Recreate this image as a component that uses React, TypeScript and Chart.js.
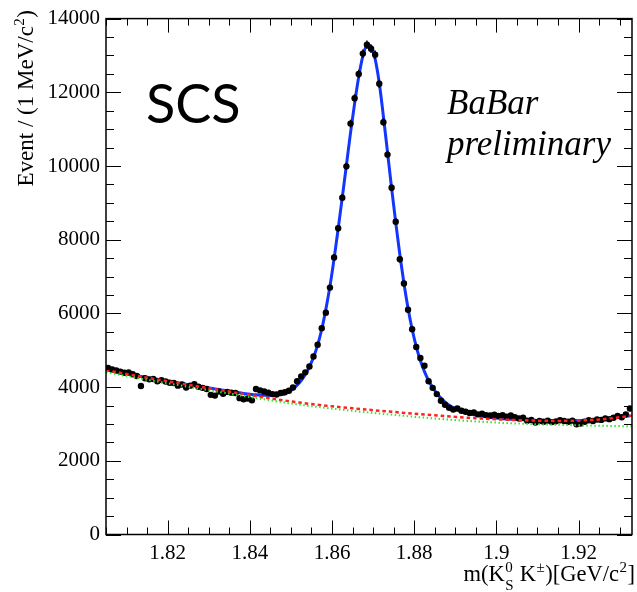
import React, { useEffect, useRef } from "react";
import { Chart, registerables } from "chart.js";

Chart.register(...registerables);

// Histogram binning: 1 MeV/c^2 bins across the K0s K± invariant-mass window (GeV/c^2)
const MASS_LOW = 1.805;
const MASS_HIGH = 1.933;
const BIN_WIDTH = 0.001;

// Events per bin
const eventCounts = [
  4520, 4480, 4450, 4420, 4390, 4400, 4350, 4300, 4030, 4240,
  4210, 4220, 4160, 4190, 4150, 4120, 4110, 4040, 4070, 3990,
  4040, 4080, 4010, 3980, 3950, 3790, 3770, 3880, 3820, 3870,
  3850, 3840, 3700, 3670, 3690, 3640, 3950, 3910, 3880, 3850,
  3810, 3800, 3840, 3860, 3900, 3990, 4160, 4290, 4400, 4560,
  4830, 5150, 5600, 6020, 6700, 7520, 8310, 9140, 9990, 11150,
  11840, 12500, 13050, 13290, 13180, 13020, 12230, 11190, 10310, 9410,
  8490, 7470, 6810, 6100, 5570, 5090, 4790, 4580, 4160, 3980,
  3810, 3630, 3520, 3440, 3390, 3420, 3360, 3330, 3300, 3310,
  3260, 3280, 3240, 3230, 3250, 3220, 3240, 3200, 3230, 3180,
  3150, 3170, 3090, 3110, 3040, 3080, 3060, 3090, 3050, 3070,
  3100, 3080, 3060, 3090, 2990, 3010, 3060, 3100, 3080, 3120,
  3110, 3150, 3130, 3170, 3220, 3180, 3260, 3420,
];

// Total fit (signal + background), evaluated at each bin centre
const totalFit = [
  4455, 4434, 4413, 4392, 4371, 4350, 4330, 4310, 4290, 4270,
  4250, 4231, 4212, 4193, 4174, 4155, 4136, 4117, 4098, 4079,
  4060, 4042, 4024, 4006, 3988, 3970, 3952, 3934, 3916, 3898,
  3880, 3862, 3845, 3828, 3813, 3800, 3790, 3782, 3777, 3775,
  3777, 3784, 3797, 3818, 3880, 3950, 4050, 4180, 4340, 4550,
  4810, 5140, 5570, 6110, 6740, 7480, 8300, 9150, 10020, 10900,
  11700, 12420, 12980, 13280, 13250, 12900, 12250, 11350, 10380, 9400,
  8470, 7600, 6820, 6140, 5570, 5100, 4720, 4420, 4180, 3990,
  3830, 3700, 3595, 3510, 3445, 3390, 3345, 3308, 3278, 3252,
  3230, 3210, 3193, 3178, 3164, 3152, 3142, 3134, 3127, 3121,
  3116, 3111, 3106, 3102, 3098, 3094, 3091, 3089, 3087, 3086,
  3085, 3085, 3086, 3088, 3091, 3095, 3100, 3106, 3113, 3121,
  3130, 3140, 3151, 3163, 3176, 3190, 3205, 3220,
];

// Background components, sampled every 5 MeV/c^2
const bkgMass = [
  1.805, 1.81, 1.815, 1.82, 1.825, 1.83, 1.835, 1.84, 1.845, 1.85,
  1.855, 1.86, 1.865, 1.87, 1.875, 1.88, 1.885, 1.89, 1.895, 1.9,
  1.905, 1.91, 1.915, 1.92, 1.925, 1.93, 1.933,
];
const bkgTotal = [
  4460, 4355, 4255, 4158, 4063, 3970, 3878, 3785, 3695, 3612,
  3540, 3478, 3424, 3374, 3325, 3278, 3233, 3192, 3156, 3126,
  3104, 3089, 3083, 3093, 3122, 3180, 3230,
];
const bkgCombinatoric = [
  4405, 4300, 4200, 4103, 4008, 3915, 3823, 3730, 3640, 3556,
  3482, 3416, 3356, 3300, 3246, 3195, 3148, 3105, 3068, 3037,
  3012, 2992, 2977, 2963, 2952, 2942, 2937,
];

const xTickValues = [1.82, 1.84, 1.86, 1.88, 1.9, 1.92];
const xTickLabels = ["1.82", "1.84", "1.86", "1.88", "1.9", "1.92"];
const yTickValues = [0, 2000, 4000, 6000, 8000, 10000, 12000, 14000];
const yTickLabels = ["0", "2000", "4000", "6000", "8000", "10000", "12000", "14000"];

const SERIF = "'Liberation Serif', 'DejaVu Serif', serif";

const binCentres = eventCounts.map((_, i) => MASS_LOW + (i + 0.5) * BIN_WIDTH);

// ROOT-style frame: inward ticks on all four sides
const frameTicks = {
  id: "frameTicks",
  afterDraw(chart: any) {
    const { ctx, chartArea: a, scales } = chart;
    const xs = scales.x;
    const ys = scales.y;
    ctx.save();
    ctx.strokeStyle = "#000";
    ctx.lineWidth = 1;
    ctx.beginPath();
    for (let m = 1805; m <= 1933; m += 5) {
      const px = Math.round(xs.getPixelForValue(m / 1000)) + 0.5;
      const len = m % 20 === 0 ? 14 : 7;
      ctx.moveTo(px, a.bottom);
      ctx.lineTo(px, a.bottom - len);
      ctx.moveTo(px, a.top);
      ctx.lineTo(px, a.top + len);
    }
    for (let v = 0; v <= 14000; v += 500) {
      const py = Math.round(ys.getPixelForValue(v)) + 0.5;
      const len = v % 2000 === 0 ? 15 : 8;
      ctx.moveTo(a.left, py);
      ctx.lineTo(a.left + len, py);
      ctx.moveTo(a.right, py);
      ctx.lineTo(a.right - len, py);
    }
    ctx.stroke();
    ctx.lineWidth = 1.5;
    ctx.strokeRect(a.left, a.top, a.right - a.left, a.bottom - a.top);
    ctx.restore();
  },
};

// Poisson error bars on the data points
const errorBars = {
  id: "errorBars",
  afterDatasetDraw(chart: any, args: any) {
    if (chart.data.datasets[args.index].label !== "data") return;
    const { ctx, chartArea: a, scales } = chart;
    ctx.save();
    ctx.beginPath();
    ctx.rect(a.left, a.top, a.right - a.left, a.bottom - a.top);
    ctx.clip();
    ctx.strokeStyle = "#000";
    ctx.lineWidth = 1.5;
    ctx.beginPath();
    eventCounts.forEach((n, i) => {
      const px = scales.x.getPixelForValue(binCentres[i]);
      const e = Math.sqrt(n);
      ctx.moveTo(px, scales.y.getPixelForValue(n + e));
      ctx.lineTo(px, scales.y.getPixelForValue(n - e));
    });
    ctx.stroke();
    ctx.restore();
  },
};

type Part = { t?: string; sup?: string; sub?: string };

function measureParts(ctx: CanvasRenderingContext2D, parts: Part[], big: string, small: string) {
  let w = 0;
  for (const p of parts) {
    if (p.t !== undefined) {
      ctx.font = big;
      w += ctx.measureText(p.t).width;
    } else {
      ctx.font = small;
      w += Math.max(p.sup ? ctx.measureText(p.sup).width : 0, p.sub ? ctx.measureText(p.sub).width : 0) + 1;
    }
  }
  return w;
}

function drawParts(ctx: CanvasRenderingContext2D, parts: Part[], x0: number, big: string, small: string, supShift: number, subShift: number) {
  let x = x0;
  for (const p of parts) {
    if (p.t !== undefined) {
      ctx.font = big;
      ctx.fillText(p.t, x, 0);
      x += ctx.measureText(p.t).width;
    } else {
      ctx.font = small;
      let w = 0;
      if (p.sup) {
        ctx.fillText(p.sup, x + 0.5, -supShift);
        w = Math.max(w, ctx.measureText(p.sup).width);
      }
      if (p.sub) {
        ctx.fillText(p.sub, x + 0.5, subShift);
        w = Math.max(w, ctx.measureText(p.sub).width);
      }
      x += w + 1;
    }
  }
}

const annotations = {
  id: "annotations",
  afterDraw(chart: any) {
    const { ctx } = chart;
    ctx.save();
    ctx.fillStyle = "#000";
    ctx.textBaseline = "alphabetic";
    ctx.textAlign = "left";

    ctx.font = "54px Lato, 'Open Sans', sans-serif";
    ctx.fillText("SCS", 146, 123);

    ctx.font = `italic 35px ${SERIF}`;
    ctx.fillText("BaBar", 447, 114);
    ctx.fillText("preliminary", 447, 155);

    // x-axis title, right-aligned to the frame
    const small = `15px ${SERIF}`;
    const xBig = `22.5px ${SERIF}`;
    const xParts: Part[] = [
      { t: "m(K" },
      { sup: "0", sub: "S" },
      { t: " K" },
      { sup: "±" },
      { t: ")[GeV/c" },
      { sup: "2" },
      { t: "]" },
    ];
    const xw = measureParts(ctx, xParts, xBig, small);
    ctx.save();
    ctx.translate(635 - xw, 581);
    drawParts(ctx, xParts, 0, xBig, small, 9, 9);
    ctx.restore();

    // y-axis title, rotated and aligned to the top of the frame
    const yBig = `23px ${SERIF}`;
    const yParts: Part[] = [{ t: "Event / (1 MeV/c" }, { sup: "2" }, { t: ")" }];
    const yw = measureParts(ctx, yParts, yBig, small);
    ctx.save();
    ctx.translate(33, 10);
    ctx.rotate(-Math.PI / 2);
    drawParts(ctx, yParts, -yw, yBig, small, 9, 9);
    ctx.restore();

    ctx.restore();
  },
};

export default function App() {
  const canvasRef = useRef<HTMLCanvasElement | null>(null);

  useEffect(() => {
    const canvas = canvasRef.current;
    if (!canvas) return;
    const chart = new Chart(canvas, {
      type: "scatter",
      data: {
        datasets: [
          {
            label: "total",
            data: binCentres.map((x, i) => ({ x, y: totalFit[i] })),
            showLine: true,
            borderColor: "#1236ff",
            borderWidth: 3,
            pointRadius: 0,
            cubicInterpolationMode: "monotone",
            order: 3,
          },
          {
            label: "data",
            data: binCentres.map((x, i) => ({ x, y: eventCounts[i] })),
            showLine: false,
            pointRadius: 3.2,
            pointBackgroundColor: "#000",
            pointBorderColor: "#000",
            pointBorderWidth: 0,
            order: 2,
          },
          {
            label: "background",
            data: bkgMass.map((x, i) => ({ x, y: bkgTotal[i] })),
            showLine: true,
            borderColor: "#ff2020",
            borderWidth: 2.5,
            borderDash: [3.5, 3],
            pointRadius: 0,
            cubicInterpolationMode: "monotone",
            order: 1,
          },
          {
            label: "combinatoric",
            data: bkgMass.map((x, i) => ({ x, y: bkgCombinatoric[i] })),
            showLine: true,
            borderColor: "#2ee82e",
            borderWidth: 2,
            borderDash: [1.5, 2.5],
            pointRadius: 0,
            cubicInterpolationMode: "monotone",
            order: 0,
          },
        ],
      },
      options: {
        responsive: false,
        animation: false,
        devicePixelRatio: 1,
        layout: { padding: { top: 15, right: 5, left: 0, bottom: 0 } },
        plugins: { legend: { display: false }, tooltip: { enabled: false }, title: { display: false } },
        scales: {
          x: {
            type: "linear",
            min: MASS_LOW,
            max: MASS_HIGH,
            grid: { display: false, drawTicks: false },
            border: { display: false },
            afterBuildTicks: (s: any) => {
              s.ticks = xTickValues.map((value) => ({ value }));
            },
            afterFit: (s: any) => {
              s.height = 57.5;
            },
            ticks: {
              autoSkip: false,
              maxRotation: 0,
              padding: 6,
              color: "#000",
              font: { family: SERIF, size: 21 },
              callback: (_v: any, i: number) => xTickLabels[i],
            },
          },
          y: {
            type: "linear",
            min: 0,
            max: 14000,
            grid: { display: false, drawTicks: false },
            border: { display: false },
            afterBuildTicks: (s: any) => {
              s.ticks = yTickValues.map((value) => ({ value }));
            },
            afterFit: (s: any) => {
              s.width = 106;
            },
            ticks: {
              autoSkip: false,
              padding: 6,
              color: "#000",
              font: { family: SERIF, size: 21 },
              callback: (_v: any, i: number) => yTickLabels[i],
            },
          },
        },
      },
      plugins: [frameTicks, errorBars, annotations],
    });
    return () => chart.destroy();
  }, []);

  return (
    <div style={{ position: "fixed", left: 0, top: 0, width: 637, height: 592, background: "#fff" }}>
      <canvas ref={canvasRef} width={637} height={592} style={{ display: "block" }} />
    </div>
  );
}
